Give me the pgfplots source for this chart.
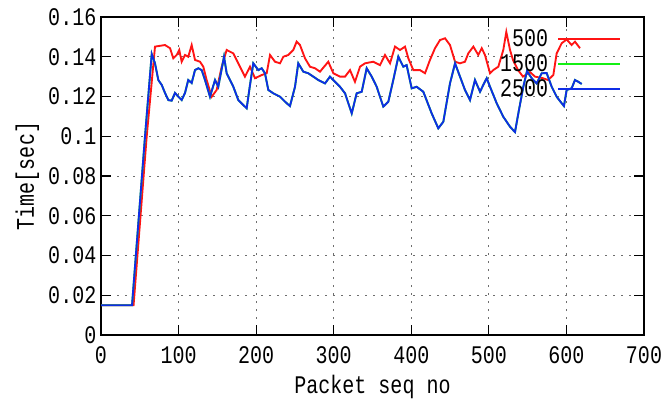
\documentclass[border=0pt]{standalone}
\usepackage{fontspec}
\setmainfont{Liberation Mono}[FakeStretch=0.79]
\usepackage{pgfplots}
\usepackage{pgfplotstable}
\pgfplotsset{compat=1.18}
\definecolor{cred}{RGB}{255,20,20}
\definecolor{cgreen}{RGB}{20,240,20}
\definecolor{cblue}{RGB}{15,45,230}
\definecolor{cgrid}{RGB}{110,110,110}

\pgfplotstableread{
x y
0 0.015
42 0.015
58.9 0.0998
69.6 0.1451
82.5 0.1459
89.0 0.1443
93.2 0.1392
97.6 0.1409
100.9 0.1434
104.0 0.1375
108.3 0.1409
112.5 0.1400
116.9 0.1459
121.2 0.1384
127.6 0.1375
131.9 0.1350
136.2 0.1283
142.7 0.1199
149.1 0.1233
155.6 0.1350
162.0 0.1434
170.6 0.1417
179.2 0.1350
185.6 0.1300
192.1 0.1350
198.5 0.1292
207.2 0.1308
213.6 0.1317
217.9 0.1409
224.3 0.1375
230.8 0.1367
235.0 0.1400
241.5 0.1409
247.9 0.1434
252.2 0.1476
256.5 0.1459
263.0 0.1392
269.4 0.1350
275.9 0.1342
282.3 0.1325
293.0 0.1375
299.5 0.1317
308.1 0.1300
314.6 0.1300
321.0 0.1333
327.4 0.1274
333.9 0.1350
340.3 0.1367
351.0 0.1375
359.7 0.1358
366.1 0.1409
372.6 0.1367
379.0 0.1451
385.5 0.1434
391.9 0.1451
396.2 0.1392
402.6 0.1333
411.2 0.1333
417.7 0.1317
424.1 0.1384
430.6 0.1443
437.0 0.1484
443.5 0.1493
449.9 0.1459
456.4 0.1375
462.8 0.1367
469.2 0.1375
473.5 0.1417
480.0 0.1451
486.4 0.1409
490.8 0.1443
495.0 0.1409
501.5 0.1317
505.7 0.1333
512.2 0.1350
518.6 0.1434
522.5 0.1525
527.3 0.1434
531.1 0.1384
537.6 0.1333
544.0 0.1300
553.0 0.1323
559.5 0.1300
569.8 0.1292
576.3 0.1283
583.1 0.1308
587.4 0.1417
593.9 0.1468
600.3 0.1487
606.7 0.1459
611.0 0.1476
617.5 0.1443
}\tredA

\pgfplotstableread{
x y
0 0.015
40 0.015
56.7 0.0998
65.4 0.1414
69.6 0.1367
73.9 0.1283
78.3 0.1258
82.5 0.1218
86.8 0.1182
91.1 0.1179
95.4 0.1218
99.7 0.1199
104.0 0.1182
108.3 0.1218
112.5 0.1283
116.9 0.1268
121.2 0.1333
125.4 0.1342
129.8 0.1333
134.1 0.1283
140.5 0.1199
147.0 0.1283
151.2 0.1249
158.6 0.1400
162.0 0.1317
170.6 0.1249
177.0 0.1182
183.4 0.1157
187.8 0.1141
192.1 0.1258
196.3 0.1367
202.8 0.1333
207.2 0.1342
211.4 0.1317
215.7 0.1233
222.1 0.1216
230.8 0.1199
239.4 0.1166
243.6 0.1152
250.1 0.1249
254.3 0.1367
260.8 0.1325
267.2 0.1317
273.7 0.1300
280.1 0.1283
288.8 0.1266
295.2 0.1300
301.7 0.1274
308.1 0.1249
314.6 0.1216
323.2 0.1115
329.6 0.1216
336.1 0.1224
342.5 0.1342
349.0 0.1300
355.4 0.1249
363.9 0.1149
370.4 0.1174
376.8 0.1283
383.3 0.1400
389.7 0.1350
394.0 0.1358
400.5 0.1241
406.9 0.1249
415.5 0.1224
426.3 0.1115
434.8 0.1040
441.3 0.1073
449.9 0.1266
456.4 0.1367
462.8 0.1300
469.2 0.1233
475.7 0.1182
482.1 0.1283
488.6 0.1224
492.8 0.1258
497.2 0.1292
501.5 0.1249
510.1 0.1166
518.6 0.1098
527.3 0.1048
533.7 0.1021
538.0 0.1115
544.4 0.1249
549.2 0.1328
555.2 0.1292
561.6 0.1266
568.1 0.1317
574.5 0.1318
581.0 0.1249
587.4 0.1199
593.9 0.1166
596.8 0.1152
600.3 0.1233
606.7 0.1241
611.0 0.1283
615.3 0.1274
619.7 0.1263
}\tblue

\begin{document}
\begin{tikzpicture}
\begin{axis}[
  scale only axis,
  width=407.25pt, height=238.5pt,
  xmin=0, xmax=700, ymin=0, ymax=0.16,
  xtick={0,100,200,300,400,500,600,700},
  ytick={0,0.02,0.04,0.06,0.08,0.1,0.12,0.14,0.16},
  scaled y ticks=false,
  yticklabel style={/pgf/number format/fixed,/pgf/number format/precision=2},
  /pgf/number format/assume math mode=true,
  tick align=inside,
  major tick length=7.5pt,
  tick style={black, line width=0.9pt},
  axis line style={black, line width=1.2pt},
  grid=major,
  grid style={cgrid, line width=0.7pt, dash pattern=on 1.5pt off 4.5pt},
  ticklabel style={font=\fontsize{19}{19}\selectfont},
  xticklabel style={yshift=-5pt},
  label style={font=\fontsize{19}{19}\selectfont},
  xlabel style={yshift=-2pt},
  xlabel={Packet seq no},
  ylabel={Time[sec]},
  legend plot pos=right,
  legend cell align=right,
  legend image code/.code={\draw[#1] (0pt,0pt) -- (46pt,0pt);},
  legend style={draw=none, fill=none, at={(axis description cs:0.965,0.979)}, anchor=north east,
    font=\fontsize{19}{19}\selectfont, row sep=0.5pt, column sep=5pt,
    nodes={inner sep=2pt}},
]
\addplot[cred, line width=1.4pt] table[x=x,y=y]{\tredA};
\addlegendentry{500}
\addplot[cgreen, line width=1.4pt] table[x=x,y=y]{\tblue};
\addlegendentry{1500}
\addplot[cblue, line width=1.4pt] table[x=x,y=y]{\tblue};
\addlegendentry{2500}
\end{axis}
\path ([shift={(-75.75pt,-51pt)}]current axis.south west) rectangle ([shift={(20.25pt,12.75pt)}]current axis.north east);
\end{tikzpicture}
\end{document}
